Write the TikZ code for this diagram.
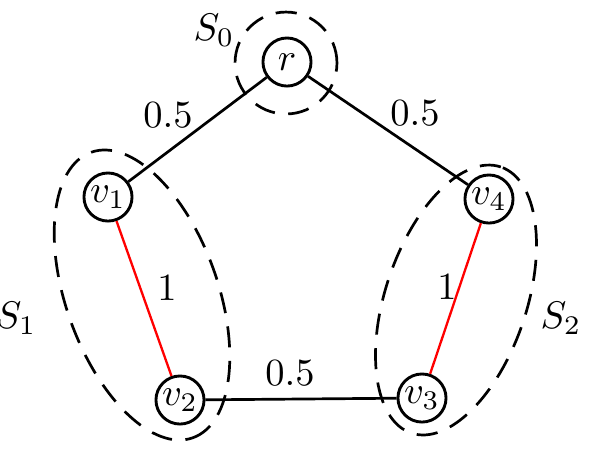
\documentclass[tikz,border=0pt]{standalone}
\usetikzlibrary{shapes.geometric, positioning}
\tikzset{
    % Vertex style
    vertex/.style={
        circle,
        draw=black,
        fill=white,
        line width=0.75pt,
        minimum size=12.5pt,
        inner sep=0pt
    },
    % Plain edge
    edge/.style={
        draw=black,
        line width=0.7pt
    },
    % Heavy (red) edge
    redge/.style={
        draw=red,
        line width=0.6pt
    },
    % Cluster around a vertex set
    cluster/.style={
        ellipse,
        draw=black,
        dash pattern=on 5.5pt off 3.5pt,
        line width=0.7pt,
        inner sep=0pt
    },
    % Weight label
    weight/.style={
        inner sep=0pt
    }
}
\begin{document}
\begin{tikzpicture}[x=0.26pt, y=-0.26pt]
    \useasboundingbox (0,0) rectangle (594,455);

    % Clusters
    \node (s0) [cluster, minimum width=26.5pt, minimum height=26.5pt] at (286,63) {};
    \node (s1) [cluster, minimum width=78.8pt, minimum height=39.5pt, rotate=-70.4] at (142,295) {};
    \node (s2) [cluster, minimum width=73pt, minimum height=36.7pt, rotate=71.4] at (456,300) {};

    % Vertices
    \node (r) [vertex] at (287,62) {$r$};
    \node (v1) [vertex] at (108,197) {$v_1$};
    \node (v4) [vertex] at (489,199) {$v_4$};
    \node (v2) [vertex] at (180,400) {$v_2$};
    \node (v3) [vertex] at (422,398) {$v_3$};

    % Edges
    \draw [edge] (r) -- (v1);
    \draw [edge] (r) -- (v4);
    \draw [edge] (v2) -- (v3);
    \draw [redge] (v1) -- (v2);
    \draw [redge] (v4) -- (v3);

    % Weights
    \node (w1) [weight] at (168,115) {$0.5$};
    \node (w4) [weight] at (415,113) {$0.5$};
    \node (w23) [weight] at (290,373) {$0.5$};
    \node (w12) [weight] at (167,288) {$1$};
    \node (w34) [weight] at (447,287) {$1$};

    % Cluster labels
    \node (l0) at (214,30) {$S_0$};
    \node (l1) at (16,318) {$S_1$};
    \node (l2) at (561,318) {$S_2$};
\end{tikzpicture}
\end{document}
